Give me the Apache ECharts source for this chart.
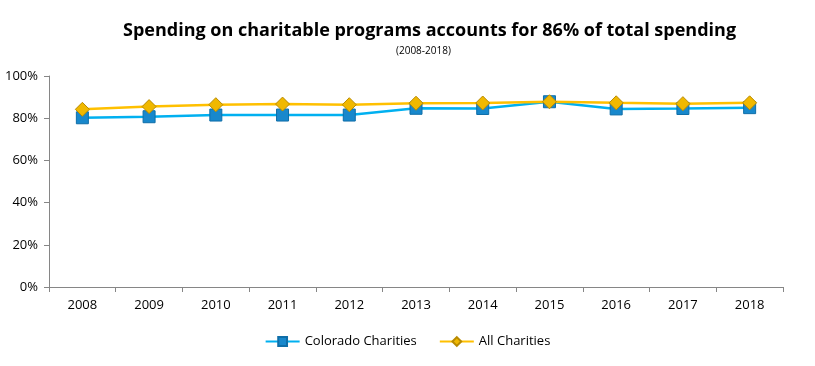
<!DOCTYPE html>
<html><head><meta charset="utf-8">
<script src="https://cdn.jsdelivr.net/npm/echarts@6/dist/echarts.min.js"></script>
<style>html,body{margin:0;padding:0;background:#fff}#c{width:815px;height:366px}</style>
</head><body><div id="c"></div>
<script>
const years = ['2008','2009','2010','2011','2012','2013','2014','2015','2016','2017','2018'];
const colorado = [80.2, 80.7, 81.5, 81.5, 81.5, 84.7, 84.6, 87.8, 84.4, 84.6, 85.0];
const allCharities = [84.2, 85.5, 86.4, 86.7, 86.4, 87.1, 87.2, 87.8, 87.3, 86.9, 87.3];
const yTicks = [0, 20, 40, 60, 80, 100];

const chart = echarts.init(document.getElementById('c'));
const font = 'Open Sans, DejaVu Sans, sans-serif';
chart.setOption({
  animation: false,
  title: [{
    text: 'Spending on charitable programs accounts for 86% of total spending',
    left: 118, top: 17,
    textStyle: { fontFamily: font, fontWeight: 'bold', fontSize: 18, color: '#000' }
  }, {
    text: '(2008-2018)',
    left: 391, top: 41,
    textStyle: { fontFamily: font, fontWeight: 'normal', fontSize: 10, color: '#000' }
  }],
  legend: {
    bottom: 13, left: 'center', itemGap: 22, itemWidth: 34, itemHeight: 11,
    textStyle: { fontFamily: font, fontSize: 13, color: '#000' },
    data: ['Colorado Charities', 'All Charities']
  },
  grid: { left: 49, right: 32, top: 76, bottom: 79 },
  xAxis: {
    type: 'category', data: years, boundaryGap: true,
    axisLine: { lineStyle: { color: '#868686' } },
    axisTick: { show: true, alignWithLabel: false, length: 5, lineStyle: { color: '#868686' } },
    axisLabel: { fontFamily: font, fontSize: 13, color: '#000', margin: 12 }
  },
  yAxis: {
    type: 'value', min: 0, max: 100, interval: 20,
    axisLine: { show: true, lineStyle: { color: '#868686' } },
    axisTick: { show: true, length: 5, lineStyle: { color: '#868686' } },
    splitLine: { show: false },
    axisLabel: { fontFamily: font, fontSize: 13, color: '#000', margin: 11,
      formatter: v => yTicks.includes(v) ? v + '%' : '' }
  },
  series: [
    {
      name: 'Colorado Charities', type: 'line', data: colorado,
      symbol: 'rect', symbolSize: 12,
      lineStyle: { color: '#00b0f0', width: 2.5 },
      itemStyle: { color: '#1888cc', borderColor: '#0f6ea8', borderWidth: 1 }
    },
    {
      name: 'All Charities', type: 'line', data: allCharities,
      symbol: 'diamond', symbolSize: 14,
      lineStyle: { color: '#ffc000', width: 2.5 },
      itemStyle: { color: '#f0b800', borderColor: '#b88a00', borderWidth: 1 }
    }
  ]
});
</script></body></html>
